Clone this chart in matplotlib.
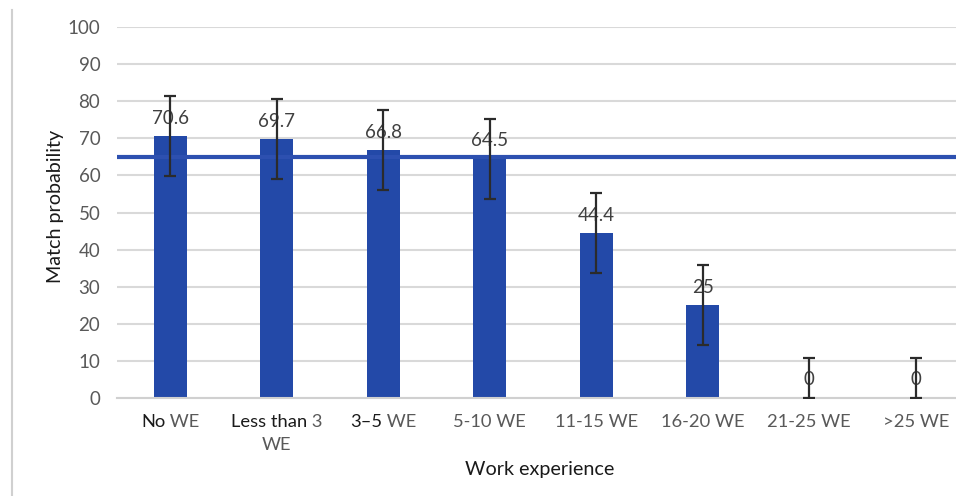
import matplotlib
matplotlib.use("Agg")
import matplotlib.pyplot as plt
from matplotlib import transforms
from matplotlib.lines import Line2D

# Data
categories = ["No WE", "Less than 3 WE", "3–5 WE", "5-10 WE",
              "11-15 WE", "16-20 WE", "21-25 WE", ">25 WE"]
match_prob = [70.6, 69.7, 66.8, 64.5, 44.4, 25, 0, 0]
error_margin = [10.8, 10.8, 10.8, 10.8, 10.8, 10.8, 10.8, 10.8]
overall_mean = 65.0

# Tick labels split into dark / grey runs, one list per text line
label_runs = [
    [[("No", "#1a1a1a"), (" WE", "#595959")]],
    [[("Less than", "#1a1a1a"), (" 3", "#595959")], [("WE", "#595959")]],
    [[("3–5", "#1a1a1a"), (" WE", "#595959")]],
    [[("5-10 WE", "#595959")]],
    [[("11-15 WE", "#595959")]],
    [[("16-20 WE", "#595959")]],
    [[("21-25 WE", "#595959")]],
    [[(">25 WE", "#595959")]],
]

plt.rcParams["font.family"] = ["Lato", "DejaVu Sans"]

W, H, DPI = 956, 496, 100
fig = plt.figure(figsize=(W / DPI, H / DPI), dpi=DPI)
ax_left, ax_right, ax_top, ax_bottom = 117, 969, 27, 398
ax = fig.add_axes([ax_left / W, 1 - ax_bottom / H,
                   (ax_right - ax_left) / W, (ax_bottom - ax_top) / H])

x = list(range(len(categories)))
bar_color = "#2349A8"
ax.bar(x, match_prob, width=0.31, color=bar_color, zorder=2)

ax.errorbar(x, match_prob, yerr=[[min(e, v) for e, v in zip(error_margin, match_prob)],
                                 error_margin],
            fmt="none", ecolor="#2b2b2b", elinewidth=1.6, capsize=4.5,
            capthick=1.6, zorder=5)

ax.axhline(overall_mean, color="#2D50B0", lw=3, zorder=4)

for xi, v in zip(x, match_prob):
    ax.annotate(f"{v:g}", (xi, v), xytext=(0, 13), textcoords="offset points",
                ha="center", va="center", fontsize=13.5, color="#404040", zorder=3)

ax.set_xlim(-0.5, len(categories) - 0.5)
ax.set_ylim(0, 100)
ax.set_yticks(range(0, 101, 10))
ax.yaxis.grid(True, color="#d9d9d9", lw=1.5, zorder=0)
ax.set_axisbelow(True)
for s in ["top", "right", "left"]:
    ax.spines[s].set_visible(False)
ax.spines["bottom"].set_color("#d0d0d0")
ax.spines["bottom"].set_linewidth(1.5)
ax.tick_params(axis="y", length=0, labelsize=13.5, labelcolor="#595959", pad=12)
ax.tick_params(axis="x", length=0, labelbottom=False)

ax.set_ylabel("Match probability", fontsize=14.2, color="#1a1a1a")
ax.yaxis.set_label_coords(-53 / (ax_right - ax_left), 0.515)

# Multi-coloured category labels
renderer = fig.canvas.get_renderer()
base = ax.get_xaxis_transform()
line_gap = 23
for xi, lines in zip(x, label_runs):
    for li, runs in enumerate(lines):
        texts = []
        widths = []
        for txt, col in runs:
            t = ax.text(xi, 0, txt, transform=base, ha="left", va="center",
                        fontsize=13.2, color=col)
            widths.append(t.get_window_extent(renderer).width)
            texts.append(t)
        total = sum(widths)
        dx = -total / 2
        for t, w in zip(texts, widths):
            t.set_transform(transforms.offset_copy(base, fig=fig, x=dx,
                                                   y=-(24 + li * line_gap),
                                                   units="dots"))
            dx += w

fig.text(540 / W, 1 - 469 / H, "Work experience", ha="center", va="center",
         fontsize=14.2, color="#1a1a1a")

fig.add_artist(Line2D([12 / W, 12 / W], [0, 1 - 10 / H], color="#d0d0d0",
                      lw=1.5, transform=fig.transFigure))

fig.savefig("out.png", dpi=DPI)
